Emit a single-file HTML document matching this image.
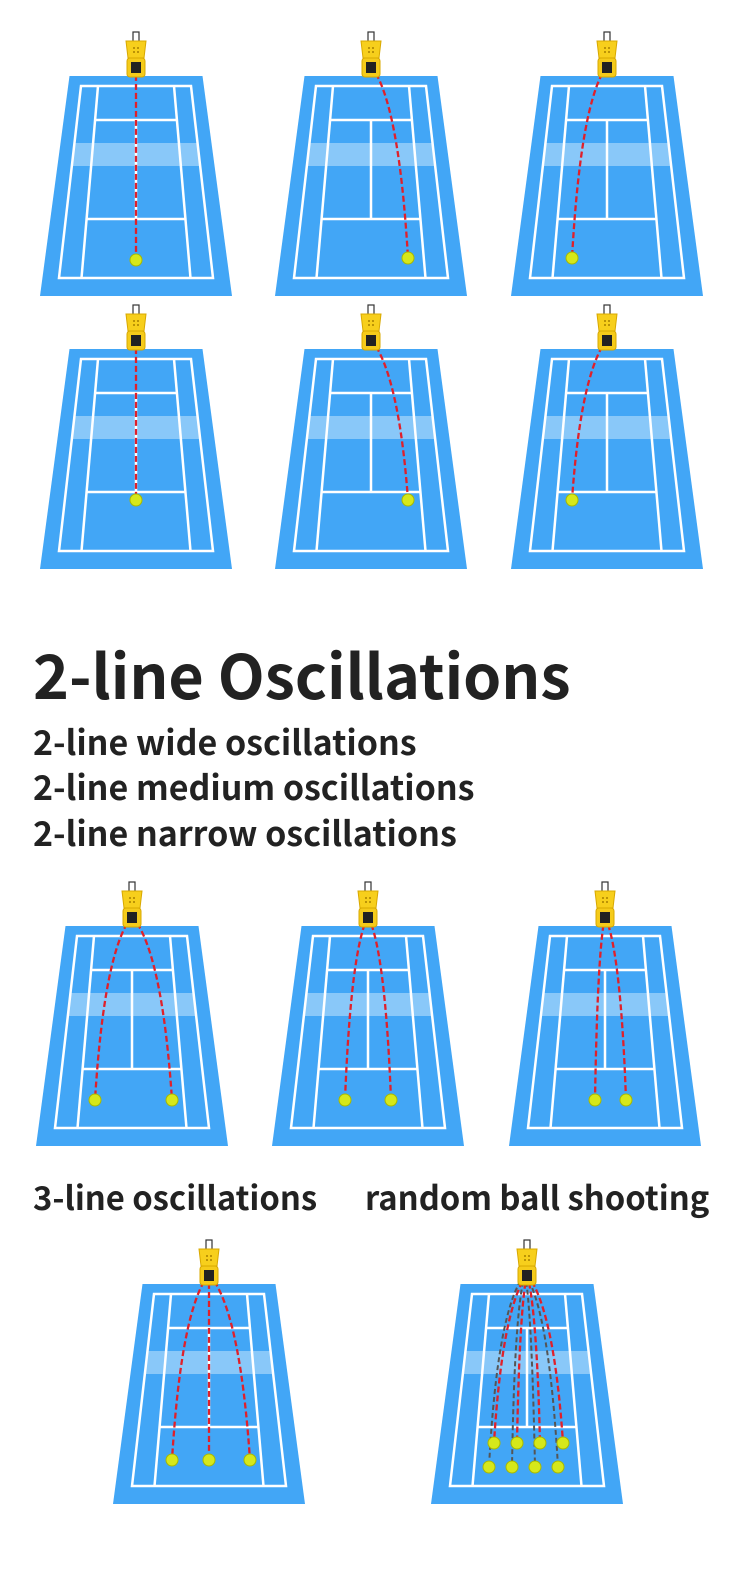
<!DOCTYPE html>
<html><head><meta charset="utf-8"><style>
html,body{margin:0;padding:0;background:#fff;width:750px;height:1584px;overflow:hidden}
.t{position:absolute;font-family:"Noto Sans CJK SC","Liberation Sans",sans-serif;font-weight:bold;color:#222;white-space:nowrap;line-height:1}
</style></head><body>
<svg id="s" width="750" height="1584" style="position:absolute;left:0;top:0" xmlns="http://www.w3.org/2000/svg">
<defs>
<g id="court">
<polygon points="-66.5,0 66.5,0 96,220 -96,220" fill="#42a6f6"/>
<polygon points="-61.6,67 61.6,67 64.2,90 -64.2,90" fill="#ffffff" fill-opacity="0.38"/>
<g stroke="#fff" stroke-width="2.5" fill="none">
<polygon points="-55,10 55,10 77,202 -77,202"/>
<line x1="-38" y1="10" x2="-54.5" y2="202"/>
<line x1="38" y1="10" x2="54.5" y2="202"/>
<line x1="-40.9" y1="44" x2="40.9" y2="44"/>
<line x1="-49.5" y1="143" x2="49.5" y2="143"/>
<line x1="0" y1="44" x2="0" y2="143"/>
</g>
</g>
<g id="mach">
<rect x="-3" y="-47" width="6" height="10" fill="none" stroke="#333" stroke-width="1.2"/>
<path d="M-10,-38 L10,-38 L8,-21 L-8,-21 Z" fill="#f7cf1c" stroke="#d8a800" stroke-width="1"/>
<rect x="-9" y="-21" width="18" height="19" rx="3" fill="#f5cb1a" stroke="#d8a800" stroke-width="1"/>
<rect x="-5" y="-17" width="10" height="11" fill="#222"/>
<circle cx="-2" cy="-31" r="1" fill="#a88000"/><circle cx="2" cy="-31" r="1" fill="#a88000"/>
<circle cx="-2" cy="-27" r="1" fill="#a88000"/><circle cx="2" cy="-27" r="1" fill="#a88000"/>
</g>
</defs>
</svg>
<div class="t" style="left:33px;top:642px;font-size:61px">2-line Oscillations</div>
<div class="t" style="left:33px;top:724px;font-size:34px">2-line wide oscillations</div>
<div class="t" style="left:33px;top:769px;font-size:34px">2-line medium oscillations</div>
<div class="t" style="left:33px;top:815px;font-size:34px">2-line narrow oscillations</div>
<div class="t" style="left:33px;top:1181px;font-size:32.8px">3-line oscillations</div>
<div class="t" style="left:365px;top:1181px;font-size:32.8px">random ball shooting</div>
<script>
var s=document.getElementById('s'),NS="http://www.w3.org/2000/svg";
function el(t,a){var e=document.createElementNS(NS,t);for(var k in a)e.setAttribute(k,a[k]);s.appendChild(e);return e;}
function court(cx,top,balls,gray){
 el('use',{href:'#court',x:cx,y:top});
 var sx=cx,sy=top-10;
 balls.forEach(function(b){
  var ex=cx+b[0],ey=top+b[1];
  var c1x=cx+b[0]*0.75,c1y=top+25;
  var d='M'+sx+','+sy+' Q'+c1x+','+c1y+' '+ex+','+ey;
  if(gray) el('path',{d:'M'+(sx-2)+','+sy+' Q'+(c1x-5)+','+c1y+' '+(ex-5)+','+(ey+24),fill:'none',stroke:'#555','stroke-width':2,'stroke-dasharray':'5,3'});
  el('path',{d:d,fill:'none',stroke:'#e0202a','stroke-width':2.3,'stroke-dasharray':'6,3'});
 });
 el('use',{href:'#mach',x:cx,y:top+3});
 balls.forEach(function(b){
  el('circle',{cx:cx+b[0],cy:top+b[1],r:6,fill:'#d6e81a',stroke:'#a8b800','stroke-width':1});
  if(gray) el('circle',{cx:cx+b[0]-5,cy:top+b[1]+24,r:6,fill:'#d6e81a',stroke:'#a8b800','stroke-width':1});
 });
}
court(136,76,[[0,184]]);court(371,76,[[37,182]]);court(607,76,[[-35,182]]);
court(136,349,[[0,151]]);court(371,349,[[37,151]]);court(607,349,[[-35,151]]);
court(132,926,[[-37,174],[40,174]]);court(368,926,[[-23,174],[23,174]]);court(605,926,[[-10,174],[21,174]]);
court(209,1284,[[-37,176],[0,176],[41,176]]);
court(527,1284,[[-33,159],[-10,159],[13,159],[36,159]],true);
</script>
</body></html>
